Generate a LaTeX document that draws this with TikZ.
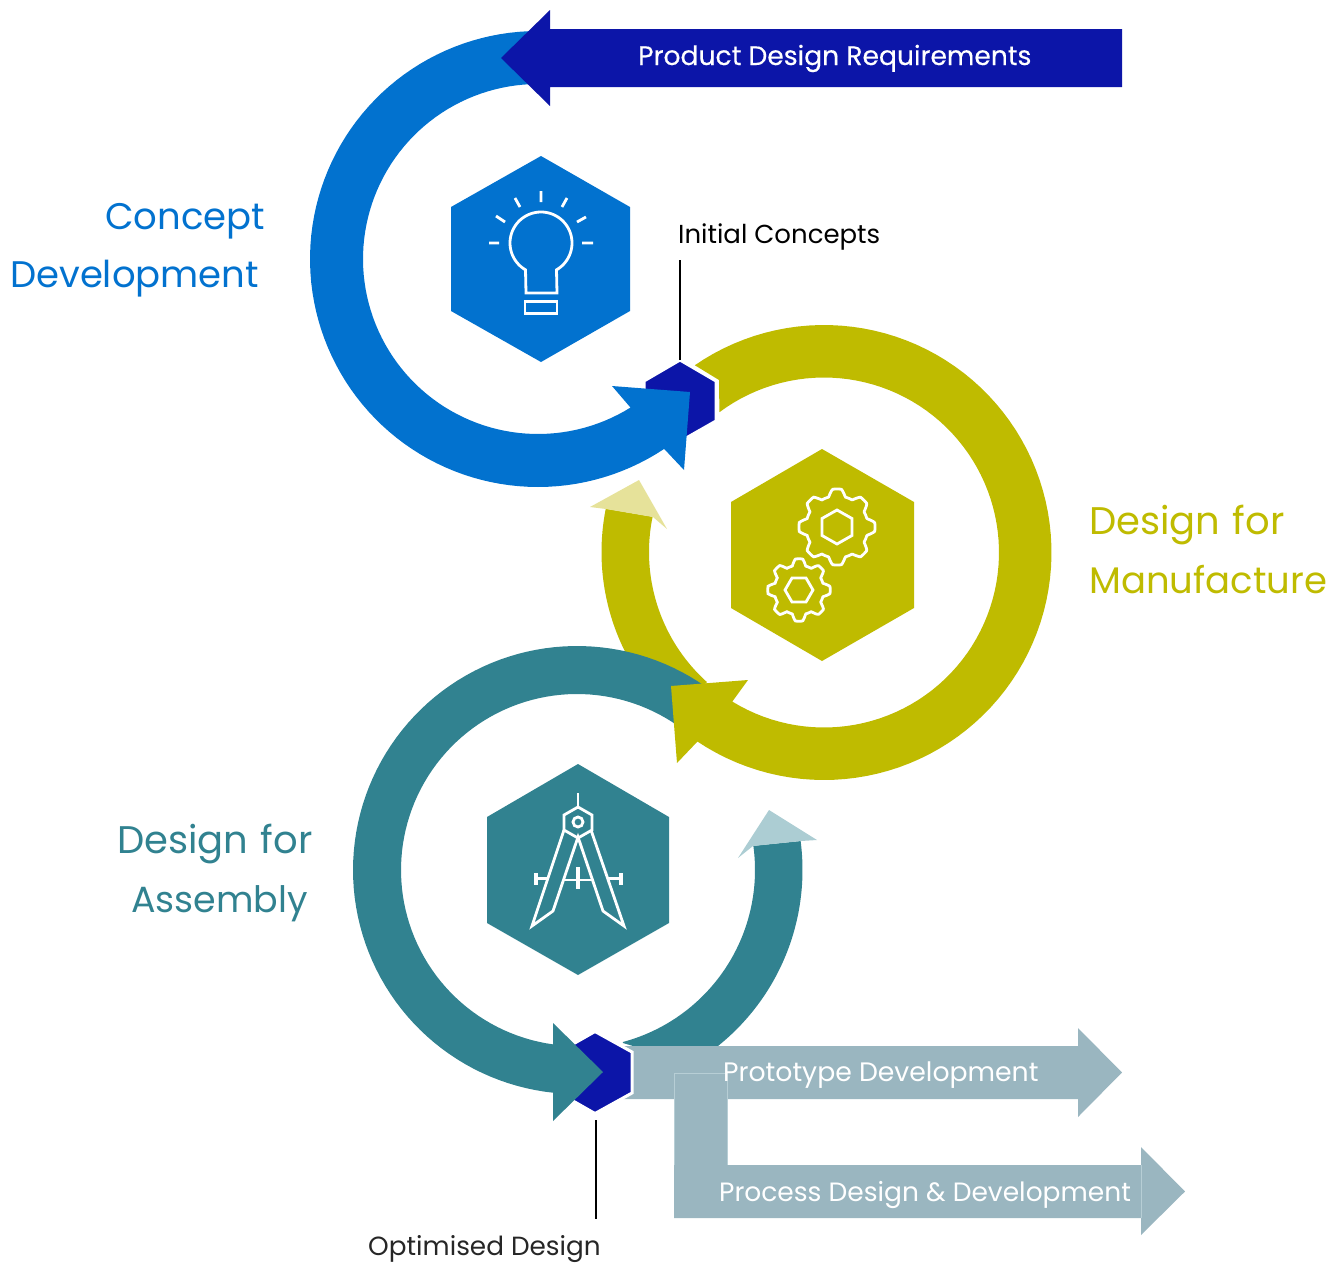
\documentclass[tikz,border=0pt]{standalone}
\usepackage{fontspec}
\setmainfont{Poppins}
\definecolor{cblue}{HTML}{0272CF}
\definecolor{cnavy}{HTML}{0C15A8}
\definecolor{colive}{HTML}{BFBB00}
\definecolor{colivel}{HTML}{E6E29A}
\definecolor{cteal}{HTML}{318290}
\definecolor{cteall}{HTML}{ACCDD3}
\definecolor{cbar}{HTML}{9AB6C0}
\definecolor{cedge}{HTML}{B7CED5}
\tikzset{
  icon/.style={draw=white,line width=2.8pt,line join=miter},
  hexgap/.style={draw=white,line width=3pt,fill=cnavy},
  barlabel/.style={text=white,anchor=base west,inner sep=0pt,font=\fontsize{26.6}{30}\selectfont},
  biglabel/.style={anchor=base west,inner sep=0pt,font=\fontsize{37}{40}\selectfont},
  designlabel/.style={anchor=base west,inner sep=0pt,font=\fontsize{38.5}{40}\selectfont},
  smalllabel/.style={anchor=base west,inner sep=0pt,font=\fontsize{26}{30}\selectfont}
}
\begin{document}
\begin{tikzpicture}[x=1pt,y=-1pt,samples=90]
\useasboundingbox (0,0) rectangle (1342,1264);

% --- olive tail with pale head
\fill[colive] plot[domain=168.8:228] ({824+222.5*cos(\x)},{552-222.5*sin(\x)})
   -- plot[domain=228:168.4] ({824+175*cos(\x)},{552-175*sin(\x)}) -- cycle;
\fill[colivel] (590,507) -- (639,480) -- (667,529) -- (653,517) -- (606,509) -- cycle;

% --- teal ring, left part
\fill[cteal] plot[domain=50:264] ({577+224*cos(\x)},{870-224*sin(\x)})
   -- (553,1070) -- plot[domain=262.2:50] ({577+176*cos(\x)},{870-176*sin(\x)}) -- cycle;
% --- teal right band with pale head
\fill[cteal] (801,841) -- plot[domain=7.4:-62] ({577+225.5*cos(\x)},{870-225.5*sin(\x)})
   -- (640,1060) -- (633,1046) -- (623,1043) -- plot[domain=-75.1:7.8] ({577+178*cos(\x)},{870-178*sin(\x)}) -- cycle;
\fill[cteall] (738,858) -- (769,810) -- (817,840) -- (801,841) -- (753,846) -- cycle;

% --- olive main ring with head
\fill[colive] (719,380) -- plot[domain=124.6:-123.8] ({824+227.5*cos(\x)},{552.5-227.5*sin(\x)})
   -- (677,763) -- (671,686) -- (748,680) -- (732,702)
   -- plot[domain=-121.5:126.7] ({824+175*cos(\x)},{552.5-175*sin(\x)}) -- cycle;

% --- output bars
\fill[cbar] (620,1046) -- (1078,1046) -- (1078,1028) -- (1122,1072.5) -- (1078,1117) -- (1078,1099) -- (620,1099) -- cycle;
\fill[cbar] (674,1073) -- (727,1073) -- (727,1165) -- (1141,1165) -- (1141,1147) -- (1185,1191.5) -- (1141,1235) -- (1141,1218) -- (674,1218) -- cycle;
\draw[cedge,line width=.6pt] (674,1165) -- (674,1073) -- (727,1073) -- (727,1165);
\draw[cedge,line width=.6pt] (1141,1165) -- (1141,1218);

% --- junction hexagons
\path[hexgap] (680,360) -- (716,381) -- (716,421) -- (680,441.5) -- (644,421) -- (644,381) -- cycle;
\path[hexgap] (595,1031.5) -- (632,1052) -- (632,1093) -- (595,1113.5) -- (559,1093) -- (559,1052) -- cycle;
\coordinate (hexAtop) at (680,360);
\coordinate (hexBbot) at (596,1120);
\coordinate (leadA) at (680,260);
\coordinate (leadB) at (596,1219);

% --- teal head
\fill[cteal] (553,1023) -- (603,1072) -- (553,1121) -- cycle;

% --- blue ring with head
\fill[cblue] plot[domain=90:303.6] ({538+228*cos(\x)},{259-228*sin(\x)})
   -- (684,470) -- (690,392) -- (612,386) -- (630,407)
   -- plot[domain=302:90] ({538+175*cos(\x)},{259-175*sin(\x)}) -- cycle;

% --- requirements arrow
\fill[cnavy] (1122,29) -- (550,29) -- (550,10) -- (501,58) -- (550,106) -- (550,87) -- (1122,87) -- cycle;

% --- big hexagons
\fill[cblue] (541,156) -- (630,207) -- (630,311) -- (541,362) -- (451,311) -- (451,207) -- cycle;
\fill[colive] (822,449) -- (914,502) -- (914,608) -- (822,661) -- (731,608) -- (731,502) -- cycle;
\fill[cteal] (578,764) -- (669,817) -- (669,923) -- (578,975) -- (487,923) -- (487,817) -- cycle;

% --- bulb icon
\draw[icon] (526,293) -- plot[domain=240:-60] ({541+31*cos(\x)},{243-31*sin(\x)}) -- (557,293) -- cycle;
\draw[icon] (525,301.5) rectangle (557,313.5);
\draw[icon] (541,191) -- (541,202) (515,198) -- (520,207) (567,198) -- (562,207)
  (496,216) -- (505,222) (586,217) -- (577,222) (489,243) -- (499,243) (582,243) -- (593,243);

% --- gear icon
\draw[icon] plot[domain=0:360,samples=240] ({837+(34.5+3.5*min(1,max(-1,1.7*cos(8*(\x-90)))))*cos(\x)},{527-(34.5+3.5*min(1,max(-1,1.7*cos(8*(\x-90)))))*sin(\x)}) -- cycle;
\draw[icon] (837,510) -- (852,518.5) -- (852,535.5) -- (837,544) -- (822,535.5) -- (822,518.5) -- cycle;
\draw[icon] plot[domain=0:360,samples=240] ({799+(28+3.2*min(1,max(-1,1.7*cos(8*(\x-90)))))*cos(\x)},{590-(28+3.2*min(1,max(-1,1.7*cos(8*(\x-90)))))*sin(\x)}) -- cycle;
\draw[icon] (785,590) -- (792,578) -- (806,578) -- (813,590) -- (806,602) -- (792,602) -- cycle;

% --- compass icon
\draw[icon] (578,793) -- (578,807);
\draw[icon] (578,807) -- (592,815) -- (592,830) -- (578,838) -- (564,830) -- (564,815) -- cycle;
\draw[icon] (578,822) circle[radius=5pt];
\draw[icon] (564,830) -- (532,926) -- (553,911) -- (578,837) -- (603,911) -- (624,926) -- (591,830);
\draw[icon] (563,880) -- (593,880);
\draw[icon,line width=4pt] (578,867) -- (578,889);
\draw[icon] (535,878.5) -- (548,878.5);
\draw[icon,line width=4pt] (536,873) -- (536,885);
\draw[icon] (608,878.5) -- (622,878.5);
\draw[icon,line width=4pt] (621,873) -- (621,885);

% --- leader lines
\draw[black,line width=1.2pt] (leadA) -- (hexAtop);
\draw[black,line width=1.2pt] (hexBbot) -- (leadB);

% --- labels
\node[barlabel,font=\fontsize{26.6}{30}\selectfont\addfontfeature{FakeBold=0.3}] (req) at (638,65) {Product Design Requirements};
\node[barlabel,font=\fontsize{26.7}{30}\selectfont] (proto) at (723,1081) {Prototype Development};
\node[barlabel,font=\fontsize{26.5}{30}\selectfont] (proc) at (719,1201) {Process Design \& Development};
\node[biglabel,text=cblue] (c1) at (105,229) {Concept};
\node[biglabel,text=cblue] (c2) at (10,287) {Development};
\node[designlabel,text=colive] (m1) at (1089,534) {Design\hspace{2pt} for};
\node[biglabel,text=colive] (m2) at (1089,593) {Manufacture};
\node[designlabel,text=cteal] (a1) at (117,853) {Design\hspace{2pt} for};
\node[biglabel,text=cteal,font=\fontsize{36.4}{40}\selectfont] (a2) at (131,912) {Assembly};
\node[smalllabel,text=black] (ic) at (678,243) {Initial Concepts};
\node[smalllabel,text=black!85,font=\fontsize{26.3}{30}\selectfont] (od) at (368,1255) {Optimised Design};
\end{tikzpicture}
\end{document}
